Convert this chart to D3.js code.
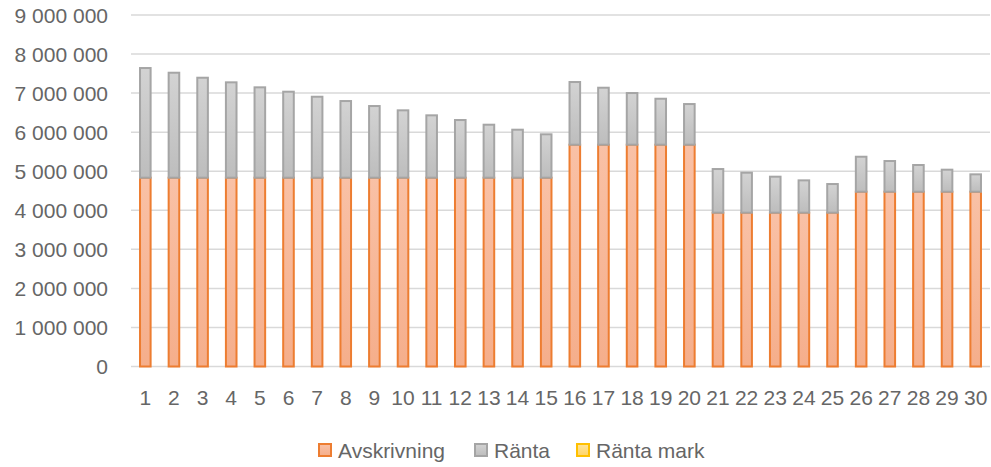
<!DOCTYPE html>
<meta charset="utf-8">
<style>
body{
    margin: 0;
    background: #fff;
}
text{
    font-family: "Liberation Sans", Arial, sans-serif;
    fill: #666666;
}
</style>
<body>
<script src="https://d3js.org/d3.v7.min.js"></script>
<script>

var width = 991,
    height = 467;

// år 1-30
var years = d3.range(1, 31);

var avskrivning = [
    4834000, 4834000, 4834000, 4834000, 4834000,
    4834000, 4834000, 4834000, 4834000, 4834000,
    4834000, 4834000, 4834000, 4834000, 4834000,
    5679000, 5679000, 5679000, 5679000, 5679000,
    3938000, 3938000, 3938000, 3938000, 3938000,
    4475000, 4475000, 4475000, 4475000, 4475000
];

var ranta = [
    2808000, 2688000, 2560000, 2442000, 2314000,
    2202000, 2073000, 1963000, 1835000, 1725000,
    1597000, 1477000, 1357000, 1229000, 1111000,
    1605000, 1459000, 1323000, 1177000, 1041000,
    1118000, 1024000, 922000, 828000, 734000,
    896000, 786000, 684000, 564000, 445000
];

var rantaMark = new Array(30).fill(0);

var yTicks = [0, 1e6, 2e6, 3e6, 4e6, 5e6, 6e6, 7e6, 8e6, 9e6];

var seriesNames = ["Avskrivning", "Ränta", "Ränta mark"];
var fills = ["url(#gOrange)", "url(#gGray)", "url(#gYellow)"];
var strokes = ["#ed7d31", "#a5a5a5", "#ffc000"];

var table = years.map((yr, i) => ({
    year: yr,
    "Avskrivning": avskrivning[i],
    "Ränta": ranta[i],
    "Ränta mark": rantaMark[i]
}));

var svg = d3.select("body").append("svg")
    .attr("width", width)
    .attr("height", height);

var defs = svg.append("defs");
function grad(id, top, bottom) {
    var g = defs.append("linearGradient")
        .attr("id", id)
        .attr("x1", 0).attr("y1", 0)
        .attr("x2", 0).attr("y2", 1);
    g.append("stop").attr("offset", "0%").attr("stop-color", top);
    g.append("stop").attr("offset", "100%").attr("stop-color", bottom);
}
grad("gOrange", "#f9c1a6", "#f5ae8b");
grad("gGray", "#d3d3d3", "#bdbdbd");
grad("gYellow", "#ffe49a", "#ffd566");

var x = d3.scaleBand()
    .domain(years)
    .range([131, 990])
    .paddingInner(0.56)
    .paddingOuter(0.28);

var y = d3.scaleLinear()
    .domain([0, 9e6])
    .range([366.5, 15]);

var fmt = d3.formatLocale({
    decimal: ",", thousands: " ", grouping: [3], currency: ["", ""]
}).format(",d");

// gridlines
svg.append("g")
    .selectAll("line")
    .data(yTicks)
  .enter().append("line")
    .attr("x1", 131)
    .attr("x2", 990)
    .attr("y1", d => y(d))
    .attr("y2", d => y(d))
    .attr("stroke", "#d9d9d9")
    .attr("stroke-width", 1.5);

// y labels
svg.append("g")
    .selectAll("text")
    .data(yTicks)
  .enter().append("text")
    .attr("x", 108)
    .attr("y", d => y(d))
    .attr("dy", "0.36em")
    .attr("text-anchor", "end")
    .style("font-size", "21px")
    .text(d => fmt(d));

// x labels
svg.append("g")
    .selectAll("text")
    .data(years)
  .enter().append("text")
    .attr("x", d => x(d) + x.bandwidth() / 2)
    .attr("y", 405)
    .attr("text-anchor", "middle")
    .style("font-size", "21px")
    .text(d => d);

var stack = d3.stack().keys(seriesNames);
var layers = stack(table);

svg.append("g")
    .selectAll("g")
    .data(layers)
  .enter().append("g")
    .attr("fill", (d, i) => fills[i])
    .attr("stroke", (d, i) => strokes[i])
    .attr("stroke-width", 2)
    .selectAll("rect")
    .data(d => d.filter(p => p[1] - p[0] > 0))
  .enter().append("rect")
    .attr("x", d => x(d.data.year) + 1)
    .attr("width", x.bandwidth() - 2)
    .attr("y", d => y(d[1]))
    .attr("height", d => y(d[0]) - y(d[1]));

// legend
var legendX = [318, 474, 576];
var legend = svg.append("g")
    .selectAll("g")
    .data(seriesNames)
  .enter().append("g")
    .attr("transform", (d, i) => "translate(" + legendX[i] + ",443)");

legend.append("rect")
    .attr("x", 1)
    .attr("y", 1)
    .attr("width", 12)
    .attr("height", 12)
    .attr("fill", (d, i) => fills[i])
    .attr("stroke", (d, i) => strokes[i])
    .attr("stroke-width", 2);

legend.append("text")
    .attr("x", 20)
    .attr("y", 14.5)
    .style("font-size", "21px")
    .text(d => d);

</script>
